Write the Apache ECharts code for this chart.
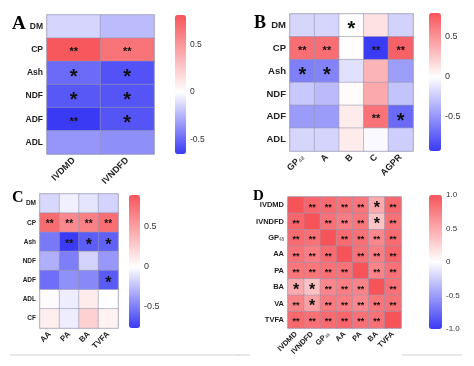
<!DOCTYPE html>
<html><head><meta charset="utf-8">
<script src="https://cdn.jsdelivr.net/npm/echarts@6/dist/echarts.min.js"></script>
<style>html,body{margin:0;padding:0;background:#fff}#c{width:474px;height:366px}</style>
</head><body><div id="c"></div>
<script>
// ---------- DATA ----------
const rowsA = ['DM','CP','Ash','NDF','ADF','ADL'];
const colsA = ['IVDMD','IVNDFD'];
const valuesA = [
  [-0.14,-0.22],
  [0.79,0.66],
  [-0.49,-0.57],
  [-0.55,-0.56],
  [-0.65,-0.56],
  [-0.35,-0.37]
];
const marksA = [['',''],['**','**'],['*','*'],['*','*'],['**','*'],['','']];

const rowsB = ['DM','CP','Ash','NDF','ADF','ADL'];
const colsB = ['GP48','A','B','C','AGPR'];
const valuesB = [
  [-0.19,-0.19,0.0,0.14,-0.21],
  [0.68,0.68,0.01,-0.92,0.74],
  [-0.6,-0.58,-0.14,0.35,-0.46],
  [-0.26,-0.32,0.02,0.4,-0.28],
  [-0.47,-0.47,0.09,0.66,-0.7],
  [-0.19,-0.2,0.09,-0.03,-0.23]
];
const marksB = [
  ['','','*','',''],
  ['**','**','','**','**'],
  ['*','*','','',''],
  ['','','','',''],
  ['','','','**','*'],
  ['','','','','']
];

const rowsC = ['DM','CP','Ash','NDF','ADF','ADL','CF'];
const colsC = ['AA','PA','BA','TVFA'];
const valuesC = [
  [-0.15,-0.06,-0.1,-0.17],
  [0.78,0.62,0.67,0.76],
  [-0.52,-0.76,-0.63,-0.61],
  [-0.31,-0.5,-0.17,-0.4],
  [-0.56,-0.43,-0.46,-0.64],
  [0.02,-0.07,0.1,0.0],
  [0.09,-0.07,0.25,0.07]
];
const marksC = [
  ['','','',''],
  ['**','**','**','**'],
  ['','**','*','*'],
  ['','','',''],
  ['','','','*'],
  ['','','',''],
  ['','','','']
];

const rowsD = ['IVDMD','IVNDFD','GP48','AA','PA','BA','VA','TVFA'];
const colsD = ['IVDMD','IVNDFD','GP48','AA','PA','BA','TVFA'];
const valuesD = [
  [1.0,0.9,0.86,0.82,0.8,0.5,0.88],
  [0.9,1.0,0.83,0.76,0.8,0.35,0.83],
  [0.86,0.83,1.0,0.86,0.83,0.7,0.86],
  [0.82,0.76,0.86,1.0,0.83,0.75,0.9],
  [0.8,0.8,0.83,0.83,1.0,0.72,0.83],
  [0.5,0.35,0.7,0.75,0.72,1.0,0.83],
  [0.72,0.55,0.78,0.76,0.7,0.8,0.83],
  [0.88,0.83,0.86,0.9,0.83,0.83,1.0]
];
const marksD = [
  ['','**','**','**','**','*','**'],
  ['**','','**','**','**','*','**'],
  ['**','**','','**','**','**','**'],
  ['**','**','**','','**','**','**'],
  ['**','**','**','**','','**','**'],
  ['*','*','**','**','**','','**'],
  ['**','*','**','**','**','**','**'],
  ['**','**','**','**','**','**','']
];

const rangeA = [-0.65, 0.81], rangeB = [-0.925, 0.8], rangeC = [-0.7625, 0.9], rangeD = [-1, 1];
const ticksA = [-0.5, 0, 0.5], ticksB = [-0.5, 0, 0.5], ticksC = [-0.5, 0, 0.5], ticksD = [-1, -0.5, 0, 0.5, 1];

// ---------- STYLE / LAYOUT ----------
const FONT = '"Liberation Sans", Arial, sans-serif';
const BLUE = [58, 58, 245], RED = [247, 84, 90];
function ramp(min, max) {
  const n = 120, out = [];
  for (let i = 0; i <= n; i++) {
    const v = min + (max - min) * i / n;
    const c = v < 0 ? BLUE : RED;
    const t = v < 0 ? v / min : v / max;
    const r = [0,1,2].map(k => Math.round(255 + (c[k] - 255) * t));
    out.push('rgb(' + r.join(',') + ')');
  }
  return out;
}
const panels = [
  {rows: rowsA, cols: colsA, vals: valuesA, marks: marksA, range: rangeA, ticks: ticksA,
   grid: {left: 47, top: 15, width: 107, height: 139}, bar: {left: 175, top: 15, width: 11, height: 139},
   rowFont: 8.5, colFont: 9, tickFont: 8.5, dFont: 11, sFont: 20, dPad: 5, sPad: 9, tickMarks: false},
  {rows: rowsB, cols: colsB, vals: valuesB, marks: marksB, range: rangeB, ticks: ticksB,
   grid: {left: 290, top: 14, width: 123, height: 137}, bar: {left: 429, top: 13, width: 12, height: 138},
   rowFont: 9.5, colFont: 9, tickFont: 9, dFont: 11, sFont: 20, dPad: 5, sPad: 9, tickMarks: false},
  {rows: rowsC, cols: colsC, vals: valuesC, marks: marksC, range: rangeC, ticks: ticksC,
   grid: {left: 40, top: 194, width: 78, height: 134}, bar: {left: 129, top: 195, width: 11, height: 133},
   rowFont: 6.5, colFont: 8, tickFont: 9, dFont: 10, sFont: 16, dPad: 4, sPad: 7, tickMarks: true},
  {rows: rowsD, cols: colsD, vals: valuesD, marks: marksD, range: rangeD, ticks: ticksD,
   grid: {left: 288, top: 197, width: 113, height: 131}, bar: {left: 429, top: 195, width: 13, height: 134},
   rowFont: 7.5, colFont: 7.5, tickFont: 8, dFont: 9, sFont: 16, dPad: 4, sPad: 7, tickMarks: false}
];

function catLabel(fs) {
  return {
    formatter: v => v === 'GP48' ? 'GP{sub|48}' : v,
    rich: {sub: {fontSize: fs * 0.6, color: '#777', fontFamily: FONT, verticalAlign: 'bottom', padding: [fs*0.3,0,0,0]}}
  };
}

const grid = [], xAxis = [], yAxis = [], series = [], visualMap = [];
panels.forEach((p, i) => {
  grid.push(Object.assign({show: true, borderColor: '#a9a9bf', borderWidth: 1.2}, p.grid));
  xAxis.push({
    gridIndex: i, type: 'category', data: p.cols, position: 'bottom',
    axisLine: {show: false}, axisTick: {show: false}, splitLine: {show: false},
    axisLabel: Object.assign({interval: 0, rotate: 45, fontSize: p.colFont, fontWeight: 'bold',
      color: '#222', fontFamily: FONT, margin: 5}, catLabel(p.colFont))
  });
  yAxis.push({
    gridIndex: i, type: 'category', data: p.rows, inverse: true,
    axisLine: {show: false}, axisTick: {show: false}, splitLine: {show: false},
    axisLabel: Object.assign({interval: 0, fontSize: p.rowFont, fontWeight: 'bold',
      color: '#222', fontFamily: FONT, margin: 4}, catLabel(p.rowFont))
  });
  const data = [];
  p.vals.forEach((row, r) => row.forEach((v, c) => data.push([c, r, v])));
  const marks = p.marks;
  series.push({
    type: 'heatmap', xAxisIndex: i, yAxisIndex: i, data: data,
    itemStyle: {borderColor: 'rgba(150,150,175,0.55)', borderWidth: 1},
    emphasis: {disabled: true},
    label: {
      show: true,
      formatter: q => {
        const m = marks[q.value[1]][q.value[0]];
        return m === '*' ? '{s|*}' : (m === '**' ? '{d|**}' : '');
      },
      rich: {
        s: {fontSize: p.sFont, fontWeight: 'bold', color: '#111', fontFamily: FONT, padding: [p.sPad,0,0,0]},
        d: {fontSize: p.dFont, fontWeight: 'bold', color: '#111', fontFamily: FONT, padding: [p.dPad,0,0,0]}
      }
    }
  });
  visualMap.push({
    type: 'continuous', seriesIndex: i, min: p.range[0], max: p.range[1],
    orient: 'vertical', left: p.bar.left, top: p.bar.top, itemWidth: p.bar.width, itemHeight: p.bar.height,
    padding: 0, text: null, calculable: false, hoverLink: false, realtime: false,
    inRange: {color: ramp(p.range[0], p.range[1])}
  });
});
// colour-bar tick label axes
panels.forEach((p, i) => {
  const gi = grid.length;
  grid.push(Object.assign({show: false}, p.bar));
  xAxis.push({gridIndex: gi, type: 'value', show: false, min: 0, max: 1});
  yAxis.push({
    gridIndex: gi, type: 'value', min: p.range[0], max: p.range[1], position: 'right',
    axisLine: {show: false}, splitLine: {show: false},
    axisTick: {show: p.tickMarks, inside: true, length: 3, customValues: p.ticks, lineStyle: {color: '#fff', width: 1.5}},
    axisLabel: {
      customValues: p.ticks, fontSize: p.tickFont, color: '#333', fontFamily: FONT, margin: 4,
      formatter: v => v === 0 ? '0' : (Number.isInteger(v) ? v.toFixed(1) : String(v))
    }
  });
});

const chart = echarts.init(document.getElementById('c'), null, {renderer: 'canvas'});
chart.setOption({
  animation: false,
  backgroundColor: '#fff',
  grid, xAxis, yAxis, series, visualMap,
  graphic: [
    {type: 'text', left: 12, top: 15, style: {text: 'A', font: 'bold 19px "Liberation Serif", serif', fill: '#000'}},
    {type: 'text', left: 254, top: 14, style: {text: 'B', font: 'bold 18px "Liberation Serif", serif', fill: '#000'}},
    {type: 'text', left: 12, top: 190, style: {text: 'C', font: 'bold 16px "Liberation Serif", serif', fill: '#000'}},
    {type: 'text', left: 253, top: 189, style: {text: 'D', font: 'bold 15px "Liberation Serif", serif', fill: '#000'}},
    {type: 'line', shape: {x1: 10, y1: 355, x2: 240, y2: 355}, style: {stroke: '#e2e2e2', lineWidth: 1.5}},
    {type: 'line', shape: {x1: 236, y1: 355, x2: 250, y2: 355}, style: {stroke: '#e2e2e2', lineWidth: 1.5}},
    {type: 'line', shape: {x1: 402, y1: 355, x2: 462, y2: 355}, style: {stroke: '#e2e2e2', lineWidth: 1.5}}
  ]
});
</script></body></html>
